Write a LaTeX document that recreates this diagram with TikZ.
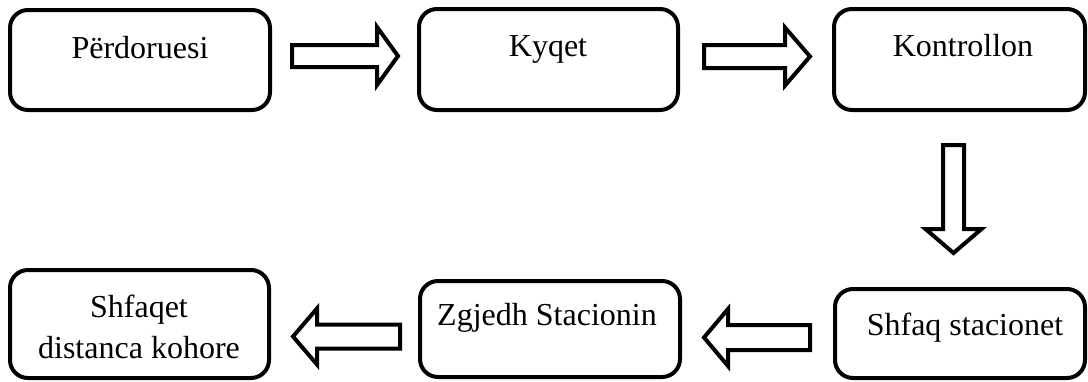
\documentclass[tikz,border=0pt]{standalone}
\usepackage{fontspec}
\setmainfont{Liberation Serif}
\begin{document}
\begin{tikzpicture}[x=1pt,y=-1pt,
  box/.style={draw=black,line width=4pt,rounded corners=18pt,inner sep=0pt,outer sep=0pt},
  lbl/.style={anchor=base,inner sep=0pt,font=\fontsize{32}{41}\selectfont,align=center},
  barrow/.style={draw=black,fill=white,line width=4pt,line join=miter}]
\useasboundingbox (0,0) rectangle (1088,381);
% boxes
\node[box,minimum width=260pt,minimum height=100pt] (b1) at (140,60) {};
\node[box,minimum width=259pt,minimum height=101pt] (b2) at (548.5,59.5) {};
\node[box,minimum width=251pt,minimum height=101pt] (b3) at (959.5,59.5) {};
\node[box,minimum width=250pt,minimum height=89pt] (b6) at (960,333.5) {};
\node[box,minimum width=260pt,minimum height=96pt] (b5) at (550,329) {};
\node[box,minimum width=259pt,minimum height=108pt] (b4) at (139.5,324) {};
% texts
\node[lbl] (t1) at (140,58) {Përdoruesi};
\node[lbl] (t2) at (548,56) {Kyqet};
\node[lbl] (t3) at (963,56.5) {Kontrollon};
\node[lbl] (t6) at (965,335) {Shfaq stacionet};
\node[lbl] (t5) at (547,325) {Zgjedh Stacionin};
\node[lbl] (t4) at (139,358) {Shfaqet\\distanca kohore};
% block arrows
\coordinate (a1) at (292,56);
\coordinate (a2) at (704,56.5);
\coordinate (a3) at (953.5,145);
\coordinate (a4) at (810,337.5);
\coordinate (a5) at (400,336.5);
\draw[barrow] (a1) ++(0,-11) -- ++(85,0) -- ++(0,-18) -- ++(21,29) -- ++(-21,29) -- ++(0,-18) -- ++(-85,0) -- cycle;
\draw[barrow] (a2) ++(0,-11.5) -- ++(81,0) -- ++(0,-17.5) -- ++(25,29) -- ++(-25,29) -- ++(0,-17.5) -- ++(-81,0) -- cycle;
\draw[barrow] (a3) ++(-10.5,0) -- ++(0,84) -- ++(-17.5,0) -- ++(28,24) -- ++(28,-24) -- ++(-17.5,0) -- ++(0,-84) -- cycle;
\draw[barrow] (a4) ++(0,-12.5) -- ++(-82,0) -- ++(0,-16) -- ++(-24,28.5) -- ++(24,28.5) -- ++(0,-16) -- ++(82,0) -- cycle;
\draw[barrow] (a5) ++(0,-12) -- ++(-83,0) -- ++(0,-16) -- ++(-24,28) -- ++(24,28) -- ++(0,-16) -- ++(83,0) -- cycle;
\end{tikzpicture}
\end{document}
